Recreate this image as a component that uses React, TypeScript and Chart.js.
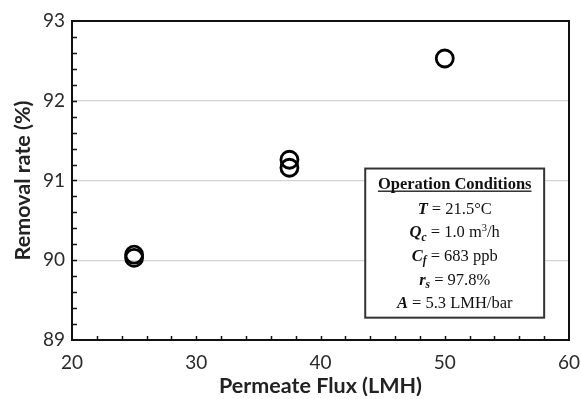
import React, { useEffect, useRef } from "react";
import { Chart, registerables } from "chart.js";

Chart.register(...registerables);

// ---- data ----
const fluxValues = [25, 25, 37.5, 37.5, 50];
const removalValues = [90.03, 90.07, 91.16, 91.26, 92.53];
const xRange = [20, 60];
const yRange = [89, 93];
const xStep = 10;
const yStep = 1;
const xMinorStep = 2;
const yMinorStep = 0.2;
const xAxisTitle = "Permeate Flux (LMH)";
const yAxisTitle = "Removal rate (%)";
const boxTitle = "Operation Conditions";
type Seg = { t: string; s?: "bi" | "bisub" | "sup" };
const conditionT: Seg[] = [{ t: "T", s: "bi" }, { t: " = 21.5°C" }];
const conditionQ: Seg[] = [{ t: "Q", s: "bi" }, { t: "c", s: "bisub" }, { t: " = 1.0 m" }, { t: "3", s: "sup" }, { t: "/h" }];
const conditionC: Seg[] = [{ t: "C", s: "bi" }, { t: "f", s: "bisub" }, { t: " = 683 ppb" }];
const conditionR: Seg[] = [{ t: "r", s: "bi" }, { t: "s", s: "bisub" }, { t: " = 97.8%" }];
const conditionA: Seg[] = [{ t: "A", s: "bi" }, { t: " = 5.3 LMH/bar" }];
const conditionLines = [conditionT, conditionQ, conditionC, conditionR, conditionA];

const SERIF = '"Liberation Serif", "Times New Roman", serif';
const SANS = 'Lato, "Open Sans", sans-serif';

function segFont(s?: string) {
  if (s === "bi") return `italic bold 16.5px ${SERIF}`;
  if (s === "bisub") return `italic bold 11.5px ${SERIF}`;
  if (s === "sup") return `10.5px ${SERIF}`;
  return `16.5px ${SERIF}`;
}

const framePlugin = {
  id: "frame",
  beforeDatasetsDraw(chart: any) {
    const { ctx, chartArea: a } = chart;
    const xs = chart.scales.x;
    const ys = chart.scales.y;
    ctx.save();
    ctx.strokeStyle = "#111";
    ctx.lineWidth = 1.5;
    ctx.beginPath();
    for (let v = yRange[0] + yMinorStep; v < yRange[1] - 1e-6; v += yMinorStep) {
      const py = Math.round(ys.getPixelForValue(v)) + 0.5;
      ctx.moveTo(a.left, py);
      ctx.lineTo(a.left + 5, py);
    }
    for (let v = xRange[0] + xMinorStep; v < xRange[1] - 1e-6; v += xMinorStep) {
      const px = Math.round(xs.getPixelForValue(v)) + 0.5;
      ctx.moveTo(px, a.bottom);
      ctx.lineTo(px, a.bottom - 4);
    }
    ctx.stroke();
    ctx.lineWidth = 2;
    ctx.strokeRect(a.left, a.top, a.right - a.left, a.bottom - a.top);
    ctx.restore();
  },
  afterDatasetsDraw(chart: any) {
    const { ctx } = chart;
    const xs = chart.scales.x;
    const ys = chart.scales.y;
    const bx0 = xs.getPixelForValue(43.6);
    const bx1 = xs.getPixelForValue(58.0);
    const by0 = ys.getPixelForValue(91.15);
    const by1 = ys.getPixelForValue(89.28);
    ctx.save();
    ctx.fillStyle = "#fff";
    ctx.fillRect(bx0, by0, bx1 - bx0, by1 - by0);
    ctx.strokeStyle = "#333";
    ctx.lineWidth = 2;
    ctx.strokeRect(bx0, by0, bx1 - bx0, by1 - by0);
    const cx = (bx0 + bx1) / 2;
    ctx.fillStyle = "#111";
    ctx.textBaseline = "alphabetic";
    ctx.textAlign = "left";
    ctx.font = `bold 16.5px ${SERIF}`;
    const tw = ctx.measureText(boxTitle).width;
    const ty = by0 + 20;
    ctx.fillText(boxTitle, cx - tw / 2, ty);
    ctx.fillRect(cx - tw / 2, ty + 2, tw, 1.3);
    conditionLines.forEach((line, i) => {
      const base = ty + 25 + i * 23.7;
      let total = 0;
      line.forEach((sg) => {
        ctx.font = segFont(sg.s);
        total += ctx.measureText(sg.t).width;
      });
      let x = cx - total / 2;
      line.forEach((sg) => {
        ctx.font = segFont(sg.s);
        let dy = 0;
        if (sg.s === "bisub") dy = 3.5;
        if (sg.s === "sup") dy = -6;
        ctx.fillText(sg.t, x, base + dy);
        x += ctx.measureText(sg.t).width;
      });
    });
    ctx.restore();
  },
};

export default function App() {
  const ref = useRef<HTMLCanvasElement>(null);
  useEffect(() => {
    const chart = new Chart(ref.current!, {
      type: "scatter",
      data: {
        datasets: [
          {
            data: fluxValues.map((x, i) => ({ x, y: removalValues[i] })),
            pointRadius: 8.5,
            pointHoverRadius: 8.5,
            pointBorderWidth: 2.8,
            borderColor: "#000",
            backgroundColor: "rgba(0,0,0,0)",
            pointBackgroundColor: "rgba(0,0,0,0)",
            pointBorderColor: "#000",
          },
        ],
      },
      options: {
        responsive: false,
        animation: false,
        layout: { padding: { left: 0, right: 12, top: 21, bottom: 0 } },
        plugins: { legend: { display: false }, tooltip: { enabled: false } },
        scales: {
          x: {
            type: "linear",
            min: xRange[0],
            max: xRange[1],
            grid: { display: false, drawTicks: false },
            border: { display: false },
            ticks: { stepSize: xStep, padding: 11, color: "#2a2a2a", font: { family: SANS, size: 19 } },
            title: { display: true, text: xAxisTitle, color: "#222", font: { family: SANS, size: 21.5, weight: "bold" }, padding: { top: 0, bottom: 0 } },
            afterFit(scale: any) {
              scale.height = 59;
              scale.paddingLeft = 0;
              scale.paddingRight = 0;
            },
          },
          y: {
            type: "linear",
            min: yRange[0],
            max: yRange[1],
            grid: {
              drawTicks: false,
              lineWidth: 1.2,
              color: (c: any) => (c.tick && (c.tick.value === yRange[0] || c.tick.value === yRange[1]) ? "rgba(0,0,0,0)" : "#d4d4d4"),
            },
            border: { display: false },
            ticks: { stepSize: yStep, padding: 7, color: "#2a2a2a", font: { family: SANS, size: 19 } },
            title: { display: true, text: yAxisTitle, color: "#222", font: { family: SANS, size: 21.5, weight: "bold" }, padding: { top: 10, bottom: 0 } },
            afterFit(scale: any) {
              scale.width = 72;
              scale.paddingTop = 0;
              scale.paddingBottom = 0;
            },
          },
        },
      },
      plugins: [framePlugin],
    } as any);
    return () => chart.destroy();
  }, []);
  return (
    <div style={{ position: "fixed", left: 0, top: 0, width: 581, height: 399, background: "#fff" }}>
      <canvas ref={ref} width={581} height={399} style={{ display: "block" }} />
    </div>
  );
}
